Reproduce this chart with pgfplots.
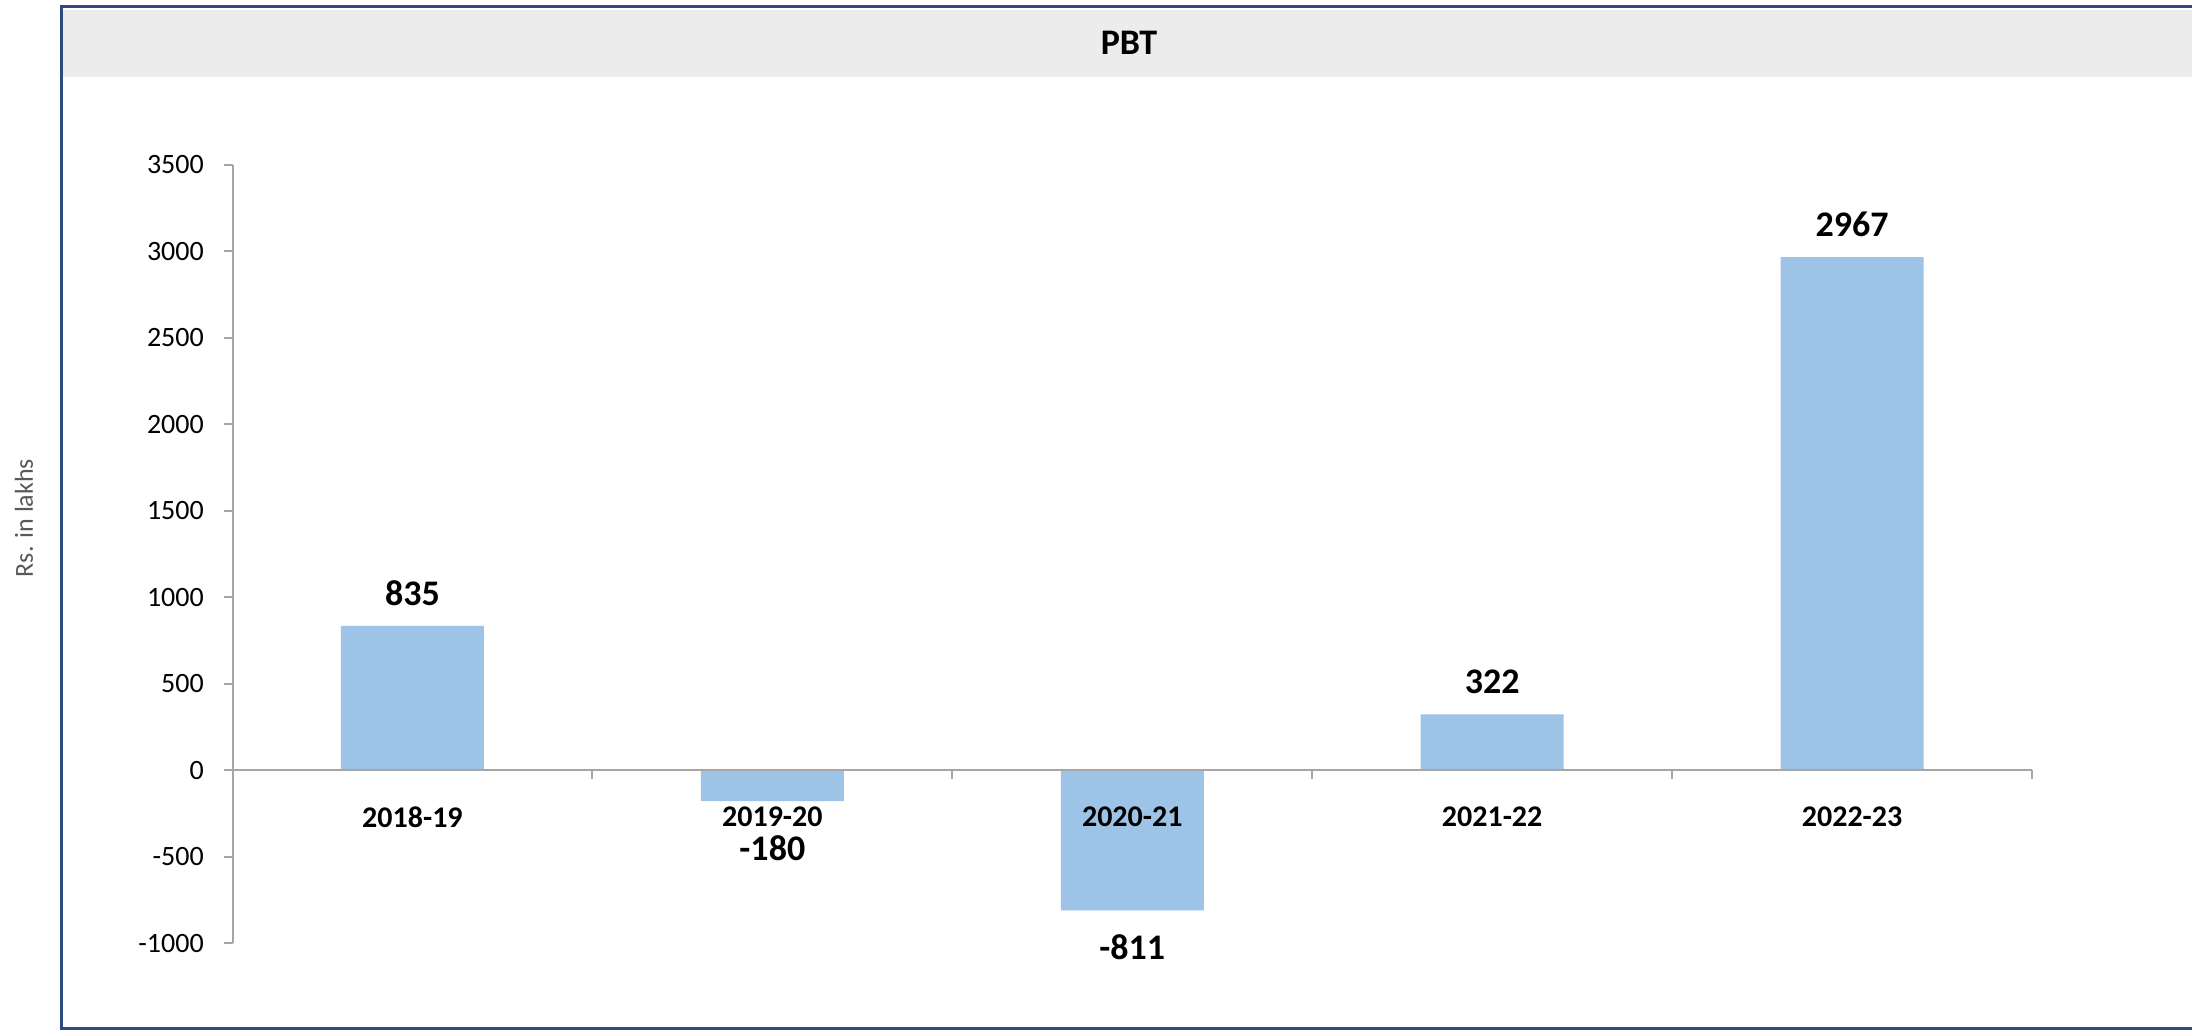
\documentclass[border=0pt]{standalone}
\usepackage{pgfplots}
\pgfplotsset{compat=1.18}
\usepackage{pgfplotstable}
\usepackage{fontspec}
\setmainfont{Carlito}
\definecolor{barblue}{HTML}{9DC3E6}
\definecolor{axgray}{HTML}{A6A6A6}
\definecolor{navy}{HTML}{2F4B7C}
\definecolor{bandgray}{HTML}{ECECEC}
\definecolor{labgray}{HTML}{595959}

\pgfplotstableread{
x y off
0 835 33
1 -180 -47
2 -811 -37
3 322 33
4 2967 33
}\pbt

\begin{document}
\begin{tikzpicture}[x=0.25pt,y=0.25pt]
\useasboundingbox (-232.5,-88) rectangle (1959.5,943);
\fill[bandgray] (-170.5,933) rectangle (1962,866);
\draw[navy, line width=0.75pt] (1962,936) -- (-170.5,936) -- (-170.5,-85) -- (1962,-85);
\node[font=\bfseries\fontsize{9}{10}\selectfont] at (896.5,900) {PBT};
\node[rotate=90, text=labgray, font=\fontsize{6.5}{7}\selectfont] at (-208.5,425) {Rs. in lakhs};
\begin{axis}[
  at={(0,0)}, anchor=south west,
  scale only axis, width=449.875pt, height=194.5pt,
  xmin=-0.5, xmax=4.5, ymin=-1000, ymax=3500,
  ytick={-1000,-500,...,3500},
  axis y line=left, axis x line=middle,
  axis line style={draw=axgray, line width=0.5pt, -},
  axis on top,
  xtick={0,1,2,3,4},
  xticklabels={2018-19,2019-20,2020-21,2021-22,2022-23},
  minor xtick={0.5,1.5,2.5,3.5,4.5},
  major x tick style={draw=none},
  minor x tick style={draw=axgray, line width=0.5pt},
  ytick style={draw=axgray, line width=0.5pt},
  major tick length=2.25pt, minor tick length=2.25pt,
  xtick align=outside, ytick align=outside,
  /pgf/number format/assume math mode=true,
  /pgf/number format/1000 sep={},
  yticklabel style={font=\fontsize{7}{8}\selectfont, text=black, xshift=-1.4pt},
  xticklabel style={font=\bfseries\fontsize{7.5}{8}\selectfont, text=black, anchor=center, yshift=-9.5pt},
  ybar, bar width=35.75pt,
  nodes near coords,
  visualization depends on={\thisrow{off} \as \off},
  every node near coord/.append style={font=\bfseries\fontsize{9}{10}\selectfont, anchor=center, yshift=\off*0.25pt},
  clip=false,
]
\addplot[fill=barblue, draw=none] table[x=x, y=y] {\pbt};
\end{axis}
\end{tikzpicture}
\end{document}
